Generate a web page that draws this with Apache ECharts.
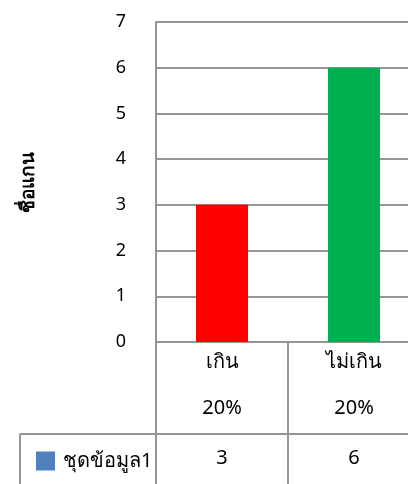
<!DOCTYPE html>
<html>
<head>
<meta charset="utf-8">
<script src="https://cdn.jsdelivr.net/npm/echarts@6/dist/echarts.min.js"></script>
<style>
  html, body { margin: 0; padding: 0; background: #fff; }
  #chart { width: 408px; height: 484px; }
</style>
</head>
<body>
<div id="chart"></div>
<script>
const categories = ['เกิน 20%', 'ไม่เกิน 20%']
const values = [3, 6]
const barColors = ['#FF0000', '#00B050']
const seriesName = 'ชุดข้อมูล1'
const yTitle = 'ชื่อแกน'

const font = '"Noto Sans", "DejaVu Sans", sans-serif'
const gray = '#969696'

const chart = echarts.init(document.getElementById('chart'))
chart.setOption({
  animation: false,
  textStyle: { fontFamily: font, color: '#000' },
  grid: { left: 156, top: 22, width: 264, height: 320, outerBoundsMode: 'none' },
  legend: {
    data: [seriesName],
    left: 31,
    top: 446,
    icon: 'rect',
    itemWidth: 19,
    itemHeight: 19,
    textStyle: { fontSize: 20, color: '#000', padding: [0, 0, 0, 3] },
  },
  xAxis: [
    {
      type: 'category',
      data: categories,
      axisLine: { lineStyle: { color: gray, width: 2 } },
      axisTick: { show: true, interval: 0, length: 142, lineStyle: { color: gray, width: 2 } },
      axisLabel: {
        interval: 0,
        fontSize: 20,
        color: '#000',
        lineHeight: 46,
        margin: -3,
        formatter: function (v) {
          return v.split(' ').join('\n')
        },
      },
    },
    {
      type: 'category',
      position: 'bottom',
      offset: 92,
      data: values.map(String),
      axisLine: { lineStyle: { color: gray, width: 2 } },
      axisTick: { show: false },
      axisLabel: { interval: 0, fontSize: 20, color: '#000', margin: 14 },
    },
  ],
  yAxis: {
    type: 'value',
    min: 0,
    max: 7,
    interval: 1,
    name: yTitle,
    nameLocation: 'middle',
    nameGap: 118,
    nameTextStyle: { fontSize: 19, fontWeight: 'bold', color: '#000' },
    axisLine: { show: true, lineStyle: { color: gray, width: 2 } },
    axisTick: { show: false },
    axisLabel: { fontSize: 18, color: '#000', margin: 30 },
    splitLine: { lineStyle: { color: gray, width: 2 } },
  },
  graphic: [
    { type: 'line', shape: { x1: 20, y1: 434, x2: 156, y2: 434 }, style: { stroke: gray, lineWidth: 2 } },
    { type: 'line', shape: { x1: 20, y1: 434, x2: 20, y2: 484 }, style: { stroke: gray, lineWidth: 2 } },
  ],
  series: [
    {
      name: seriesName,
      type: 'bar',
      barWidth: 52,
      itemStyle: { color: '#4F81BD' },
      data: values.map((v, i) => ({ value: v, itemStyle: { color: barColors[i] } })),
    },
  ],
})
</script>
</body>
</html>
